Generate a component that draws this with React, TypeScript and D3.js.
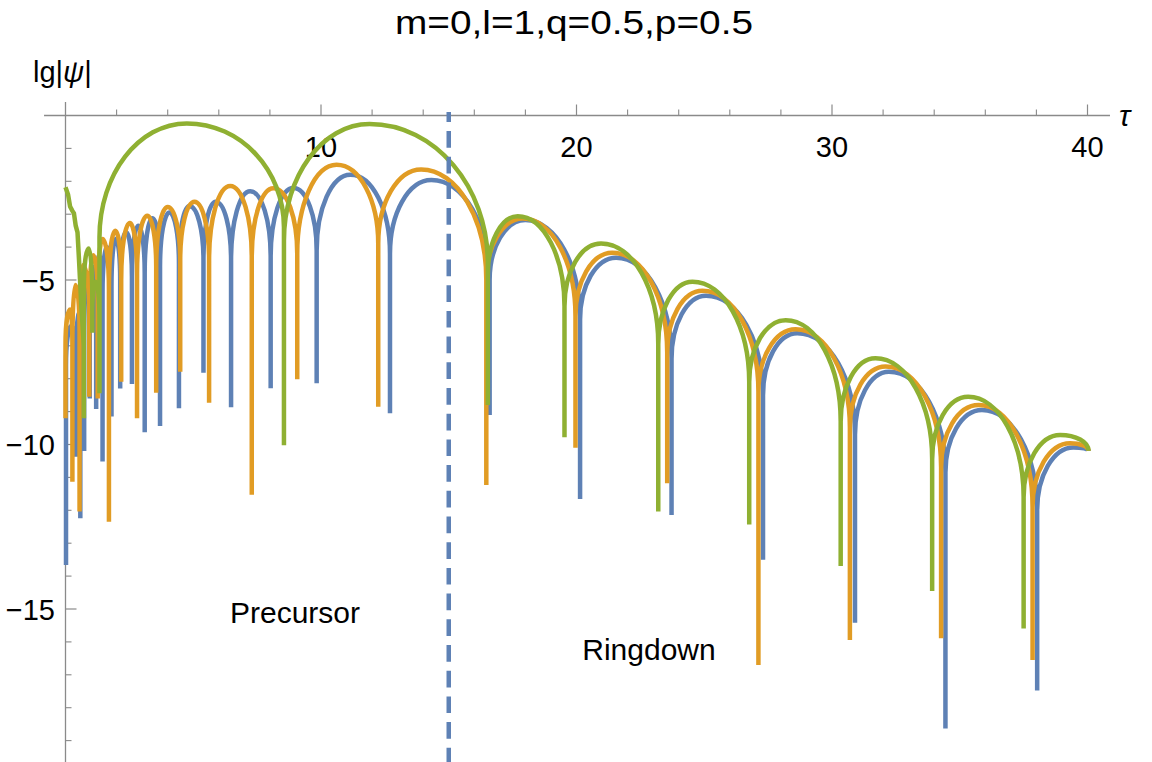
import React, { useEffect, useRef } from 'react';
import * as d3 from 'd3';

// cusp: [tau, floor, join level on the left, join level on the right]
type Cusp = [number, number, number, number];
type Top = [number, number];

const title = 'm=0,l=1,q=0.5,p=0.5';

const xMajorTicks = [10, 20, 30, 40];
const xMinorTicks = [2, 4, 6, 8, 12, 14, 16, 18, 22, 24, 26, 28, 32, 34, 36, 38];
const yMajorTicks = [-5, -10, -15];
const yMinorTicks = [-1, -2, -3, -4, -6, -7, -8, -9, -11, -12, -13, -14, -16, -17, -18, -19];

const splitTau = 15;

const blueCusps: Cusp[] = [
  [0.02, -13.66, -10.3, -7.6], [0.42, -10.37, -7.3, -7.3], [0.58, -12.24, -7.0, -7.0],
  [0.73, -10.2, -6.8, -6.8], [0.95, -8.6, -6.1, -6.1], [1.2, -8.92, -5.7, -5.7],
  [1.45, -10.52, -5.4, -5.4], [1.8, -9.15, -5.2, -5.2], [2.14, -8.3, -5.0, -5.0],
  [2.6, -8.16, -4.9, -4.9], [3.1, -9.63, -4.8, -4.8], [3.7, -9.44, -4.6, -4.6],
  [4.44, -8.9, -4.5, -4.5], [5.4, -7.82, -4.4, -4.4], [6.48, -8.87, -4.4, -4.4],
  [8.03, -8.29, -4.3, -4.3], [9.83, -8.14, -4.1, -4.1], [12.7, -9.05, -4.2, -4.2],
  [16.6, -9.1, -5.0, -5.0], [20.14, -11.66, -6.2, -6.2], [23.72, -12.14, -7.4, -7.4],
  [27.3, -13.5, -8.5, -8.5], [30.9, -15.42, -9.7, -9.7], [34.44, -18.63, -10.85, -10.85],
  [38.03, -17.48, -12.0, -12.0], [40.04, -10.19, -10.19, -10.19],
];
const blueTops: Top[] = [
  [0.22, -6.4], [0.5, -6.0], [0.65, -5.8], [0.84, -5.0], [1.07, -4.6], [1.32, -4.25],
  [1.62, -4.0], [1.97, -3.75], [2.37, -3.55], [2.85, -3.35], [3.4, -3.12], [4.07, -2.95],
  [4.85, -2.75], [5.88, -2.62], [7.23, -2.3], [8.92, -2.2], [11.15, -1.8], [14.32, -1.96],
  [18.0, -3.18], [21.55, -4.32], [25.07, -5.48], [28.64, -6.62], [32.23, -7.79],
  [35.87, -8.95], [39.45, -10.09],
];

const orangeCusps: Cusp[] = [
  [0.0, -9.2, -9.2, -7.0], [0.27, -11.13, -7.0, -7.0], [0.55, -12.04, -6.6, -6.6],
  [0.93, -8.55, -6.0, -6.0], [1.26, -8.6, -5.6, -5.6], [1.7, -12.35, -5.3, -5.3],
  [2.18, -8.09, -5.0, -5.0], [2.8, -9.2, -4.8, -4.8], [3.55, -8.43, -4.6, -4.6],
  [4.49, -7.79, -4.4, -4.4], [5.62, -8.73, -4.4, -4.4], [7.29, -11.53, -4.3, -4.3],
  [9.07, -8.02, -4.2, -4.2], [12.24, -8.85, -3.9, -3.9], [16.47, -11.23, -5.0, -5.0],
  [19.96, -10.1, -6.1, -6.1], [23.55, -11.18, -7.2, -7.2], [27.12, -16.7, -8.4, -8.4],
  [30.7, -15.94, -9.5, -9.5], [34.27, -15.89, -10.7, -10.7], [37.85, -16.55, -11.9, -11.9],
  [40.04, -10.19, -10.19, -10.19],
];
const orangeTops: Top[] = [
  [0.18, -5.9], [0.39, -5.15], [0.68, -4.55], [1.09, -4.25], [1.45, -3.75], [1.95, -3.5],
  [2.52, -3.27], [3.2, -3.05], [4.0, -2.78], [5.05, -2.62], [6.45, -2.14], [8.14, -2.21],
  [10.61, -1.5], [13.92, -1.64], [17.9, -3.13], [21.4, -4.17], [24.93, -5.33],
  [28.58, -6.5], [32.1, -7.63], [35.74, -8.8], [39.32, -9.96],
];

const greenLead: Top[] = [
  [0, -2.18], [0.1, -2.4], [0.18, -2.77], [0.27, -2.9], [0.33, -2.97], [0.4, -3.35],
  [0.47, -3.55], [0.53, -4.4], [0.62, -5.8],
];
const greenCusps: Cusp[] = [
  [0.72, -9.2, -7.0, -5.2], [1.05, -6.6, -5.6, -6.0], [1.33, -8.44, -6.2, -3.7],
  [8.55, -10.02, -3.4, -3.8], [16.53, -8.8, -4.5, -4.8], [19.53, -9.78, -5.8, -5.8],
  [23.2, -12.04, -6.95, -6.95], [26.76, -12.43, -8.1, -8.1], [30.34, -13.69, -9.3, -9.3],
  [33.92, -14.45, -10.45, -10.45], [37.5, -15.59, -11.6, -11.6], [40.04, -10.19, -10.19, -10.19],
];
const greenTops: Top[] = [
  [0.91, -4.04], [1.18, -5.05], [4.75, -0.24], [11.9, -0.26], [17.7, -3.06], [20.96, -3.89],
  [24.54, -5.05], [28.19, -6.22], [31.7, -7.38], [35.33, -8.55], [38.93, -9.71],
];

const seriesList = [
  { name: 'blue', color: '#5E81B5', cusps: blueCusps, tops: blueTops, lead: [] as Top[] },
  { name: 'orange', color: '#E19C24', cusps: orangeCusps, tops: orangeTops, lead: [] as Top[] },
  { name: 'green', color: '#8FB032', cusps: greenCusps, tops: greenTops, lead: greenLead },
];

const W = 1152;
const H = 762;
const FONT = '"Liberation Sans", Arial, Helvetica, sans-serif';
const AXIS = '#8a8a8a';
const K = 0.5523; // quarter-ellipse handle

const App: React.FC = () => {
  const svgRef = useRef<SVGSVGElement>(null);

  useEffect(() => {
    if (!svgRef.current) return;
    const svg = d3.select(svgRef.current);
    svg.selectAll('*').remove();

    const x = d3.scaleLinear().domain([0, 40]).range([65.5, 1087.5]);
    const y = d3.scaleLinear().domain([0, -15]).range([115.5, 609]);

    // one arch per top, vertical spikes at the cusps
    const lobePath = (cusps: Cusp[], tops: Top[], lead: Top[]) => {
      const seq = [
        ...cusps.map(c => ({ kind: 'c' as const, t: c[0], c, p: null as Top | null })),
        ...tops.map(p => ({ kind: 't' as const, t: p[0], c: null as Cusp | null, p })),
      ].sort((a, b) => a.t - b.t);
      const path = d3.path();
      let started = false;
      if (lead.length) {
        path.moveTo(x(lead[0][0]), y(lead[0][1]));
        lead.slice(1).forEach(d => path.lineTo(x(d[0]), y(d[1])));
        started = true;
      }
      seq.forEach((it, i) => {
        if (it.kind === 'c' && it.c) {
          const [t, lo, jl, jr] = it.c;
          const cx = x(t);
          if (!started) {
            path.moveTo(cx, y(lo));
            started = true;
          } else {
            path.lineTo(cx, y(jl));
            path.lineTo(cx, y(lo));
          }
          path.lineTo(cx, y(jr));
        } else if (it.p) {
          const px = x(it.p[0]);
          const py = y(it.p[1]);
          const prev = seq[i - 1];
          const next = seq[i + 1];
          if (prev && prev.c) {
            const x0 = x(prev.c[0]);
            const y0 = y(prev.c[3]);
            path.bezierCurveTo(x0, y0 + K * (py - y0), px - K * (px - x0), py, px, py);
          } else if (!started) {
            path.moveTo(px, py);
            started = true;
          }
          if (next && next.c) {
            const x1 = x(next.c[0]);
            const y1 = y(next.c[2]);
            path.bezierCurveTo(px + K * (x1 - px), py, x1, y1 + K * (py - y1), x1, y1);
          }
        }
      });
      return path.toString();
    };

    // title
    svg.append('text')
      .attr('x', 574)
      .attr('y', 34)
      .attr('text-anchor', 'middle')
      .attr('textLength', 358)
      .attr('lengthAdjust', 'spacingAndGlyphs')
      .style('font-family', FONT)
      .style('font-size', '33px')
      .style('fill', '#000')
      .text(title);

    // axes
    const g = svg.append('g');
    g.append('line')
      .attr('x1', x(-0.84)).attr('x2', x(40.88))
      .attr('y1', y(0)).attr('y2', y(0))
      .style('stroke', AXIS).style('stroke-width', 1.3);
    g.append('line')
      .attr('x1', x(0)).attr('x2', x(0))
      .attr('y1', y(0.41)).attr('y2', H)
      .style('stroke', AXIS).style('stroke-width', 1.3);

    xMajorTicks.forEach(t => {
      g.append('line')
        .attr('x1', x(t)).attr('x2', x(t))
        .attr('y1', y(0)).attr('y2', y(0) - 11)
        .style('stroke', AXIS).style('stroke-width', 1.2);
      g.append('text')
        .attr('x', x(t)).attr('y', 157)
        .attr('text-anchor', 'middle')
        .style('font-family', FONT).style('font-size', '29px')
        .text(t);
    });
    xMinorTicks.forEach(t => {
      g.append('line')
        .attr('x1', x(t)).attr('x2', x(t))
        .attr('y1', y(0)).attr('y2', y(0) - 6)
        .style('stroke', AXIS).style('stroke-width', 1.1);
    });
    yMajorTicks.forEach(t => {
      g.append('line')
        .attr('x1', x(0)).attr('x2', x(0) + 11)
        .attr('y1', y(t)).attr('y2', y(t))
        .style('stroke', AXIS).style('stroke-width', 1.2);
      g.append('text')
        .attr('x', 55).attr('y', y(t) + 10.5)
        .attr('text-anchor', 'end')
        .style('font-family', FONT).style('font-size', '29px')
        .text(`\u2212${Math.abs(t)}`);
    });
    yMinorTicks.forEach(t => {
      g.append('line')
        .attr('x1', x(0)).attr('x2', x(0) + 6)
        .attr('y1', y(t)).attr('y2', y(t))
        .style('stroke', AXIS).style('stroke-width', 1.1);
    });

    // axis labels
    const yl = svg.append('text')
      .attr('x', 33).attr('y', 82)
      .style('font-family', FONT).style('font-size', '29px');
    yl.append('tspan').text('lg|');
    yl.append('tspan').style('font-style', 'italic').text('\u03C8');
    yl.append('tspan').text('|');

    svg.append('text')
      .attr('x', 1119).attr('y', 126)
      .style('font-family', FONT).style('font-size', '30px').style('font-style', 'italic')
      .text('\u03C4');

    // curves
    const curves = svg.append('g');
    seriesList.forEach(s => {
      curves.append('path')
        .attr('d', lobePath(s.cusps, s.tops, s.lead))
        .style('fill', 'none')
        .style('stroke', s.color)
        .style('stroke-width', 4.5)
        .style('stroke-linecap', 'butt')
        .style('stroke-linejoin', 'miter');
    });

    // precursor / ringdown divider
    svg.append('line')
      .attr('x1', x(splitTau)).attr('x2', x(splitTau))
      .attr('y1', 112).attr('y2', H)
      .style('stroke', '#5E81B5')
      .style('stroke-width', 4.5)
      .style('stroke-dasharray', '16.7 9')
      .style('stroke-dashoffset', 6.7);

    svg.append('text')
      .attr('x', 295).attr('y', 623)
      .attr('text-anchor', 'middle')
      .style('font-family', FONT).style('font-size', '30px')
      .text('Precursor');
    svg.append('text')
      .attr('x', 649).attr('y', 660)
      .attr('text-anchor', 'middle')
      .style('font-family', FONT).style('font-size', '30px')
      .text('Ringdown');
  }, []);

  return (
    <div style={{ position: 'absolute', left: 0, top: 0, background: '#fff' }}>
      <svg ref={svgRef} width={W} height={H} style={{ display: 'block' }}></svg>
    </div>
  );
};

export default App;
